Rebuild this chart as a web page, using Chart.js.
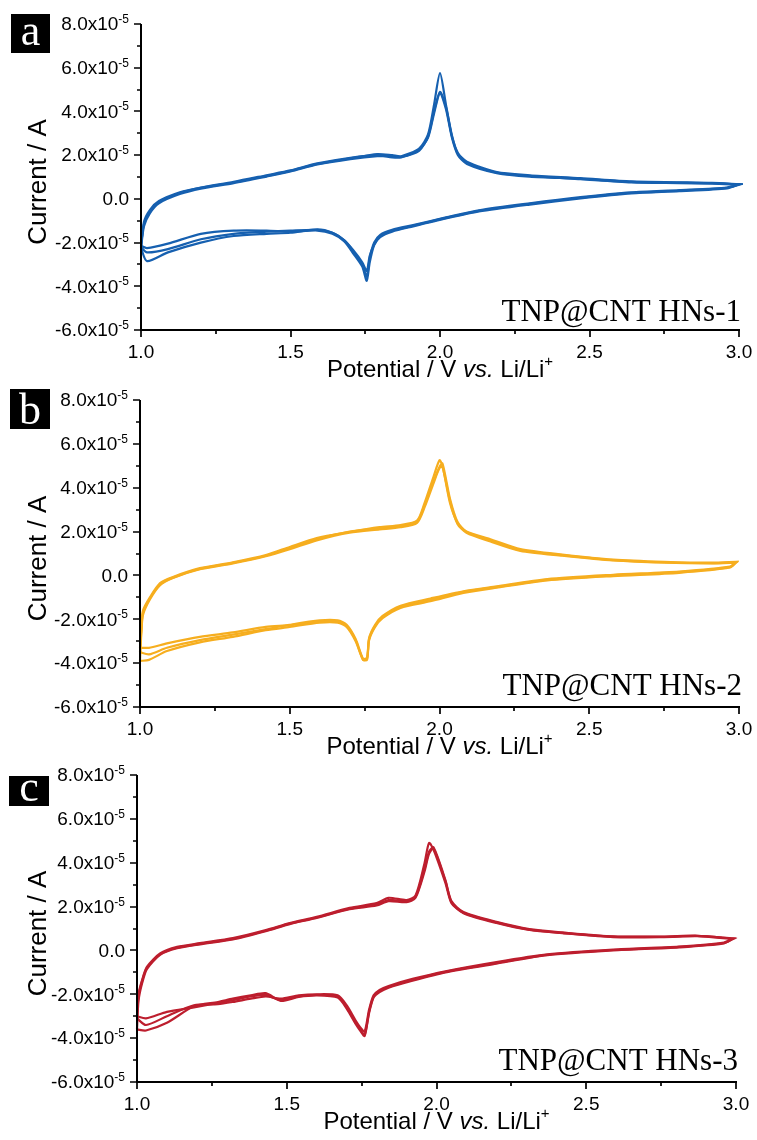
<!DOCTYPE html>
<html>
<head>
<meta charset="utf-8">
<script src="https://cdn.jsdelivr.net/npm/chart.js@4.4.0/dist/chart.umd.min.js"></script>
<style>
    html, body {margin: 0; padding: 0; background: #fff;}
    #wrap {position: relative; width: 757px; height: 1140px; overflow: hidden;}
    .panel {position: absolute; left: 0; width: 757px;}
</style>
</head>
<body>
<div id="wrap">
    <div class="panel" style="top:0"><canvas id="chartA" width="757" height="390"></canvas></div>
    <div class="panel" style="top:375px"><canvas id="chartB" width="757" height="390"></canvas></div>
    <div class="panel" style="top:755px"><canvas id="chartC" width="757" height="385"></canvas></div>
</div>
<script>
// axis ticks (potential in V, current in units of 1e-5 A)
const xTicks = [1.0, 1.5, 2.0, 2.5, 3.0];
const xTickLabels = ['1.0', '1.5', '2.0', '2.5', '3.0'];
const xMinor = [1.25, 1.75, 2.25, 2.75];
const yTicks = [8, 6, 4, 2, 0, -2, -4, -6];
const yTickText = ['8.0x10', '6.0x10', '4.0x10', '2.0x10', '0.0', '-2.0x10', '-4.0x10', '-6.0x10'];
const yTickSup = ['-5', '-5', '-5', '-5', '', '-5', '-5', '-5'];
const yMinor = [7, 5, 3, 1, -1, -3, -5];

// panel a - TNP@CNT HNs-1
const aUpV = [1.00, 1.01, 1.03, 1.06, 1.13, 1.20, 1.31, 1.42, 1.50, 1.59, 1.70, 1.79, 1.84, 1.87, 1.93, 1.96, 1.98, 2.00, 2.02, 2.04, 2.06, 2.09, 2.19, 2.30, 2.47, 2.64, 2.80, 2.91, 3.00];
const aUp1 = [-2.15, -1.15, -0.6, -0.15, 0.27, 0.5, 0.75, 1.05, 1.28, 1.6, 1.85, 2.05, 2.0, 1.95, 2.3, 2.95, 4.3, 5.75, 4.3, 2.9, 2.05, 1.65, 1.2, 1.05, 0.9, 0.75, 0.72, 0.7, 0.65];
const aUp2 = [-2.2, -1.05, -0.5, -0.1, 0.3, 0.52, 0.78, 1.08, 1.3, 1.62, 1.88, 2.0, 1.9, 1.9, 2.25, 2.8, 3.9, 4.85, 4.1, 2.8, 2.0, 1.6, 1.18, 1.02, 0.92, 0.78, 0.74, 0.72, 0.66];
const aUp3 = [-2.25, -1.25, -0.65, -0.2, 0.22, 0.47, 0.72, 1.02, 1.25, 1.57, 1.82, 1.95, 1.95, 1.92, 2.2, 2.85, 4.0, 4.9, 4.2, 2.85, 2.1, 1.7, 1.22, 1.08, 0.95, 0.8, 0.76, 0.73, 0.67];
const aDownV = [3.00, 2.96, 2.80, 2.64, 2.47, 2.30, 2.13, 2.02, 1.91, 1.84, 1.80, 1.78, 1.765, 1.755, 1.74, 1.71, 1.68, 1.64, 1.59, 1.50, 1.42, 1.31, 1.20, 1.09, 1.02, 1.00];
const aDown1 = [0.65, 0.5, 0.37, 0.27, 0.05, -0.23, -0.55, -0.87, -1.23, -1.46, -1.7, -2.1, -2.9, -3.75, -3.1, -2.5, -1.95, -1.6, -1.45, -1.5, -1.45, -1.45, -1.6, -2.05, -2.25, -2.15];
const aDown2 = [0.66, 0.52, 0.4, 0.3, 0.08, -0.2, -0.52, -0.85, -1.2, -1.42, -1.65, -2.0, -2.7, -3.55, -3.0, -2.4, -1.9, -1.55, -1.42, -1.45, -1.5, -1.6, -1.85, -2.3, -2.45, -2.2];
const aDown3 = [0.67, 0.48, 0.35, 0.25, 0.02, -0.26, -0.58, -0.9, -1.26, -1.5, -1.75, -2.1, -2.6, -3.3, -2.9, -2.35, -1.9, -1.55, -1.4, -1.55, -1.6, -1.7, -2.0, -2.45, -2.85, -2.25];

// panel b - TNP@CNT HNs-2
const bUpV = [1.00, 1.005, 1.01, 1.033, 1.067, 1.11, 1.20, 1.31, 1.42, 1.50, 1.59, 1.70, 1.80, 1.87, 1.925, 1.95, 1.98, 2.00, 2.01, 2.035, 2.06, 2.09, 2.17, 2.27, 2.41, 2.58, 2.75, 2.91, 2.99];
const bUp1 = [-3.3, -2.3, -1.6, -1.0, -0.35, -0.07, 0.33, 0.6, 0.93, 1.3, 1.7, 1.98, 2.2, 2.3, 2.5, 3.3, 4.5, 5.25, 5.0, 3.3, 2.4, 1.98, 1.6, 1.15, 0.93, 0.7, 0.6, 0.56, 0.6];
const bUp2 = [-3.5, -2.4, -1.7, -1.05, -0.4, -0.1, 0.3, 0.57, 0.9, 1.25, 1.65, 2.0, 2.15, 2.25, 2.45, 3.2, 4.3, 4.95, 5.1, 3.5, 2.45, 2.0, 1.65, 1.2, 0.95, 0.72, 0.62, 0.58, 0.62];
const bUp3 = [-3.9, -2.5, -1.8, -1.1, -0.45, -0.12, 0.28, 0.55, 0.88, 1.2, 1.6, 1.95, 2.1, 2.2, 2.4, 3.1, 4.2, 4.9, 4.95, 3.4, 2.35, 1.95, 1.55, 1.12, 0.9, 0.68, 0.58, 0.55, 0.58];
const bDownV = [2.99, 2.97, 2.80, 2.58, 2.36, 2.19, 2.08, 1.97, 1.87, 1.81, 1.785, 1.765, 1.758, 1.745, 1.72, 1.69, 1.66, 1.60, 1.50, 1.42, 1.31, 1.20, 1.09, 1.03, 1.00];
const bDown1 = [0.6, 0.38, 0.15, 0.0, -0.2, -0.53, -0.75, -1.12, -1.43, -1.9, -2.3, -2.9, -3.8, -3.85, -2.95, -2.3, -2.1, -2.1, -2.27, -2.35, -2.6, -2.8, -3.1, -3.3, -3.3];
const bDown2 = [0.62, 0.4, 0.18, 0.03, -0.17, -0.5, -0.72, -1.05, -1.38, -1.85, -2.25, -2.85, -3.75, -3.8, -2.9, -2.25, -2.05, -2.05, -2.25, -2.45, -2.7, -2.95, -3.3, -3.6, -3.5];
const bDown3 = [0.58, 0.36, 0.12, -0.03, -0.23, -0.56, -0.8, -1.18, -1.48, -1.95, -2.35, -2.95, -3.85, -3.85, -3.0, -2.35, -2.15, -2.15, -2.35, -2.5, -2.8, -3.05, -3.45, -3.85, -3.9];

// panel c - TNP@CNT HNs-3
const cUpV = [1.00, 1.005, 1.017, 1.033, 1.077, 1.134, 1.21, 1.32, 1.43, 1.51, 1.60, 1.71, 1.80, 1.84, 1.90, 1.93, 1.96, 1.975, 1.99, 2.03, 2.05, 2.09, 2.20, 2.31, 2.42, 2.59, 2.76, 2.87, 2.99];
const cUp1 = [-3.0, -2.0, -1.35, -0.75, -0.14, 0.16, 0.33, 0.56, 0.93, 1.25, 1.53, 1.94, 2.16, 2.4, 2.3, 2.5, 3.97, 4.9, 4.6, 3.07, 2.16, 1.7, 1.25, 0.93, 0.79, 0.61, 0.61, 0.65, 0.52];
const cUp2 = [-3.1, -2.1, -1.4, -0.8, -0.18, 0.12, 0.3, 0.53, 0.9, 1.22, 1.5, 1.9, 2.1, 2.3, 2.25, 2.45, 3.7, 4.5, 4.7, 3.2, 2.2, 1.72, 1.28, 0.95, 0.8, 0.63, 0.62, 0.66, 0.54];
const cUp3 = [-3.6, -2.3, -1.5, -0.85, -0.2, 0.1, 0.28, 0.5, 0.88, 1.2, 1.48, 1.88, 2.05, 2.25, 2.2, 2.4, 3.6, 4.4, 4.65, 3.15, 2.25, 1.75, 1.3, 0.97, 0.82, 0.64, 0.63, 0.67, 0.55];
const cDownV = [2.99, 2.96, 2.81, 2.59, 2.37, 2.20, 2.03, 1.92, 1.84, 1.81, 1.79, 1.775, 1.76, 1.745, 1.73, 1.70, 1.67, 1.60, 1.54, 1.48, 1.43, 1.38, 1.32, 1.27, 1.19, 1.10, 1.03, 1.00];
const cDown1 = [0.52, 0.34, 0.16, 0.02, -0.2, -0.57, -0.98, -1.35, -1.67, -1.85, -2.1, -2.8, -3.85, -3.6, -3.3, -2.6, -2.1, -2.03, -2.1, -2.27, -2.03, -2.1, -2.27, -2.4, -2.6, -2.8, -3.1, -3.0];
const cDown2 = [0.54, 0.36, 0.18, 0.04, -0.18, -0.53, -0.95, -1.3, -1.62, -1.8, -2.05, -2.7, -3.7, -3.5, -3.2, -2.5, -2.05, -2.0, -2.05, -2.2, -2.1, -2.2, -2.35, -2.45, -2.5, -3.0, -3.4, -3.1];
const cDown3 = [0.55, 0.32, 0.14, 0.0, -0.22, -0.6, -1.0, -1.38, -1.7, -1.9, -2.15, -2.85, -3.9, -3.65, -3.35, -2.65, -2.15, -2.05, -2.12, -2.3, -1.95, -2.05, -2.2, -2.35, -2.55, -3.3, -3.65, -3.6];

const UNIT = 1e-5;
const SANS = '"Liberation Sans", Arial, sans-serif';
const SERIF = '"Liberation Serif", "Times New Roman", serif';

// one CV cycle: anodic sweep up, then cathodic sweep back down
function cycle(upV, up, downV, down) {
    const pts = [];
    upV.forEach((v, i) => pts.push({x: v, y: up[i] * UNIT}));
    downV.forEach((v, i) => pts.push({x: v, y: down[i] * UNIT}));
    return pts;
}

const cvAxes = {
    id: 'cvAxes',
    afterDraw(chart, args, opts) {
        const ctx = chart.ctx;
        const a = chart.chartArea;
        const x = chart.scales.x;
        const y = chart.scales.y;
        ctx.save();
        ctx.strokeStyle = '#000';
        ctx.fillStyle = '#000';
        ctx.lineWidth = 2;

        // axis lines (left + bottom only)
        ctx.beginPath();
        ctx.moveTo(a.left, a.top);
        ctx.lineTo(a.left, a.bottom);
        ctx.lineTo(a.right + 1, a.bottom);
        ctx.stroke();

        ctx.lineWidth = 1.7;
        ctx.beginPath();
        xTicks.forEach(v => {
            const px = Math.round(x.getPixelForValue(v));
            ctx.moveTo(px, a.bottom); ctx.lineTo(px, a.bottom + 7);
        });
        xMinor.forEach(v => {
            const px = Math.round(x.getPixelForValue(v));
            ctx.moveTo(px, a.bottom); ctx.lineTo(px, a.bottom + 4);
        });
        yTicks.forEach(v => {
            const py = Math.round(y.getPixelForValue(v * UNIT));
            ctx.moveTo(a.left, py); ctx.lineTo(a.left - 7, py);
        });
        yMinor.forEach(v => {
            const py = Math.round(y.getPixelForValue(v * UNIT));
            ctx.moveTo(a.left, py); ctx.lineTo(a.left - 4, py);
        });
        ctx.stroke();

        // x tick labels
        ctx.font = '19px ' + SANS;
        ctx.textAlign = 'center';
        ctx.textBaseline = 'alphabetic';
        xTicks.forEach((v, i) => {
            ctx.fillText(xTickLabels[i], x.getPixelForValue(v), a.bottom + 28);
        });

        // y tick labels with superscript exponent
        const right = a.left - 12;
        yTicks.forEach((v, i) => {
            const py = y.getPixelForValue(v * UNIT);
            ctx.font = '12px ' + SANS;
            const sw = ctx.measureText(yTickSup[i]).width;
            ctx.textAlign = 'left';
            ctx.textBaseline = 'alphabetic';
            if (yTickSup[i]) ctx.fillText(yTickSup[i], right - sw, py - 1);
            ctx.font = '19px ' + SANS;
            ctx.textAlign = 'right';
            ctx.textBaseline = 'middle';
            ctx.fillText(yTickText[i], right - sw, py + 1);
        });
        ctx.textBaseline = 'alphabetic';

        // y title
        ctx.save();
        ctx.translate(39, (a.top + a.bottom) / 2 + 5);
        ctx.rotate(-Math.PI / 2);
        ctx.font = '26px ' + SANS;
        ctx.textAlign = 'center';
        ctx.textBaseline = 'middle';
        ctx.fillText('Current / A', 0, 0);
        ctx.restore();

        // x title: Potential / V vs. Li/Li+
        const parts = [
            ['Potential / V ', 'normal 24px', 0],
            ['vs.', 'italic 24px', 0],
            [' Li/Li', 'normal 24px', 0],
            ['+', 'normal 15px', -11]
        ];
        let total = 0;
        parts.forEach(p => {
            ctx.font = p[1] + ' ' + SANS;
            total += ctx.measureText(p[0]).width;
        });
        let tx = (a.left + a.right) / 2 - total / 2;
        const ty = a.bottom + 47;
        ctx.textAlign = 'left';
        parts.forEach(p => {
            ctx.font = p[1] + ' ' + SANS;
            ctx.fillText(p[0], tx, ty + p[2]);
            tx += ctx.measureText(p[0]).width;
        });

        // panel letter in black box
        const b = opts.box;
        ctx.fillStyle = '#000';
        ctx.fillRect(b[0], b[1], b[2], b[3]);
        ctx.fillStyle = '#fff';
        ctx.font = '44px ' + SERIF;
        ctx.textAlign = 'center';
        ctx.fillText(opts.letter, b[0] + b[2] / 2, opts.letterBase);

        // sample name
        ctx.fillStyle = '#000';
        ctx.font = '31px ' + SERIF;
        ctx.textAlign = 'right';
        ctx.fillText(opts.name, opts.nameX, opts.nameY);
        ctx.restore();
    }
};

function makeChart(id, color, cycles, pad, deco) {
    new Chart(document.getElementById(id), {
        type: 'scatter',
        data: {
            datasets: cycles.map(c => ({
                data: c,
                showLine: true,
                borderColor: color,
                borderWidth: 2.2,
                pointRadius: 0,
                tension: 0.25,
                clip: 4
            }))
        },
        options: {
            responsive: false,
            animation: false,
            layout: {padding: pad},
            plugins: {legend: {display: false}, tooltip: {enabled: false}, cvAxes: deco},
            scales: {
                x: {type: 'linear', display: false, min: 1, max: 3},
                y: {type: 'linear', display: false, min: -6e-5, max: 8e-5}
            }
        },
        plugins: [cvAxes]
    });
}

makeChart('chartA', '#1660b0', [
    cycle(aUpV, aUp1, aDownV, aDown1),
    cycle(aUpV, aUp2, aDownV, aDown2),
    cycle(aUpV, aUp3, aDownV, aDown3)
], {left: 141, top: 24, right: 18, bottom: 60},
    {letter: 'a', box: [11, 14, 39, 39], letterBase: 45, name: 'TNP@CNT HNs-1', nameX: 741, nameY: 321});

makeChart('chartB', '#f6ae1f', [
    cycle(bUpV, bUp1, bDownV, bDown1),
    cycle(bUpV, bUp2, bDownV, bDown2),
    cycle(bUpV, bUp3, bDownV, bDown3)
], {left: 140, top: 25, right: 18, bottom: 58},
    {letter: 'b', box: [10, 14, 40, 40], letterBase: 49, name: 'TNP@CNT HNs-2', nameX: 742, nameY: 320});

makeChart('chartC', '#bd1e2e', [
    cycle(cUpV, cUp1, cDownV, cDown1),
    cycle(cUpV, cUp2, cDownV, cDown2),
    cycle(cUpV, cUp3, cDownV, cDown3)
], {left: 137, top: 20, right: 21, bottom: 58},
    {letter: 'c', box: [9, 21, 40, 30], letterBase: 46, name: 'TNP@CNT HNs-3', nameX: 738, nameY: 315});
</script>
</body>
</html>
